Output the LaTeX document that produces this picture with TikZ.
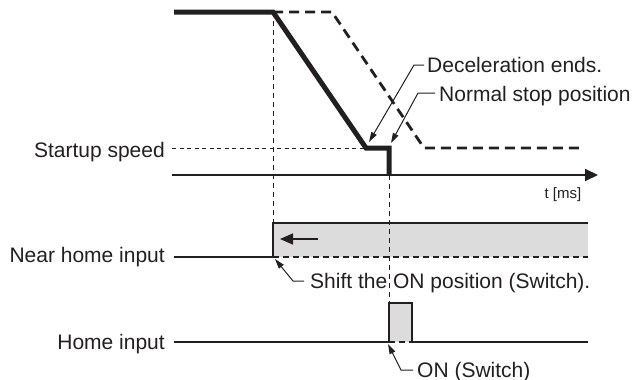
\documentclass[tikz,border=0pt]{standalone}
\usepackage{fontspec}
\setmainfont{Liberation Sans}
\usetikzlibrary{arrows.meta}
\definecolor{ink}{HTML}{231F20}
\definecolor{greyfill}{HTML}{DCDCDC}
\tikzset{
  lbl/.style={inner sep=0pt, text=ink, font=\fontsize{21}{25}\selectfont},
  small/.style={inner sep=0pt, text=ink, font=\fontsize{15}{18}\selectfont},
  heavy/.style={draw=ink, line width=5pt, line join=miter},
  heavydash/.style={draw=ink, line width=2.8pt, dash pattern=on 10pt off 6pt},
  thindash/.style={draw=ink, line width=1pt, dash pattern=on 4pt off 3.5pt},
  sig/.style={draw=ink, line width=2.6pt, line join=miter},
  leader/.style={draw=ink, line width=1pt, -{Triangle[length=10pt,width=6pt]}},
  axisline/.style={draw=ink, line width=2pt, -{Triangle[length=13pt,width=12pt]}}
}
\begin{document}
\begin{tikzpicture}[x=1pt,y=-1pt]
\useasboundingbox (0,0) rectangle (633,380);
% coordinates
\coordinate (s0) at (174,12);
\coordinate (s1) at (273,12);
\coordinate (s2) at (366,148);
\coordinate (s3) at (389,148);
\coordinate (s4) at (389,175);
\coordinate (d1) at (332,12);
\coordinate (d2) at (424,148);
\coordinate (d3) at (584,148);
\coordinate (ss0) at (172,148);
\coordinate (ax0) at (172,175);
\coordinate (ax1) at (598,175);
\coordinate (v1b) at (273,257);
\coordinate (v2b) at (389,342);
% near home signal
\coordinate (n0) at (174,257);
\coordinate (n1) at (273,257);
\coordinate (n2) at (273,223);
\coordinate (n3) at (588,223);
\coordinate (n4) at (588,257);
% home signal
\coordinate (h0) at (174,342);
\coordinate (h1) at (389,342);
\coordinate (h2) at (389,303);
\coordinate (h3) at (412,303);
\coordinate (h4) at (412,342);
\coordinate (h5) at (588,342);
% fills
\fill[fill=greyfill] (n1) rectangle (n3);
\fill[fill=greyfill] (h1) rectangle (h3);
% vertical guides
\draw[thindash, dash pattern=on 5pt off 4pt] (s1) -- (v1b);
\draw[thindash, dash pattern=on 5pt off 4pt] (s4) -- (v2b);
% startup speed guide
\draw[thindash] (ss0) -- (s2);
% speed curves
\draw[heavydash] (s1) -- (d1) -- (d2) -- (d3);
\draw[heavy] (s0) -- (s1) -- (s2) -- (s3) -- (s4);
% axis
\draw[axisline] (ax0) -- (ax1);
\node[small, anchor=base] (tl) at (563,198) {t [ms]};
% near home
\draw[sig] (n0) -- (n1) -- (n2) -- (n3);
\draw[thindash, line width=1.2pt, dash pattern=on 6pt off 4pt] (n1) -- (n4);
\coordinate (ar0) at (318,239);
\coordinate (ar1) at (280,239);
\draw[draw=ink, line width=1.5pt, -{Triangle[length=13pt,width=11pt]}] (ar0) -- (ar1);
% home
\draw[sig] (h0) -- (h1) -- (h2) -- (h3) -- (h4) -- (h5);
\draw[thindash, line width=1.2pt, dash pattern=on 6pt off 4pt] (h1) -- (h4);
% labels left
\node[lbl, anchor=base east] (lss) at (165,157) {Startup speed};
\node[lbl, anchor=base east] (lnh) at (165,262) {Near home input};
\node[lbl, anchor=base east] (lh) at (165,349) {Home input};
% annotation labels
\node[lbl, anchor=base west] (tdec) at (427,72) {Deceleration ends.};
\node[lbl, anchor=base west] (tnor) at (439,101) {Normal stop position};
\node[lbl, anchor=base west] (tsh) at (310,288) {Shift the ON position (Switch).};
\node[lbl, anchor=base west] (ton) at (417,377) {ON (Switch)};
% leaders
\coordinate (la1) at (424,65);
\coordinate (lb1) at (414,65);
\coordinate (lt1) at (369,142);
\draw[leader] (la1) -- (lb1) -- (lt1);
\coordinate (la2) at (435,93);
\coordinate (lb2) at (418,93);
\coordinate (lt2) at (391,143);
\draw[leader] (la2) -- (lb2) -- (lt2);
\coordinate (la3) at (304,281);
\coordinate (lb3) at (293,281);
\coordinate (lt3) at (275,259);
\draw[leader] (la3) -- (lb3) -- (lt3);
\coordinate (la4) at (413,370);
\coordinate (lb4) at (401,370);
\coordinate (lt4) at (388,344);
\draw[leader] (la4) -- (lb4) -- (lt4);
\end{tikzpicture}
\end{document}
